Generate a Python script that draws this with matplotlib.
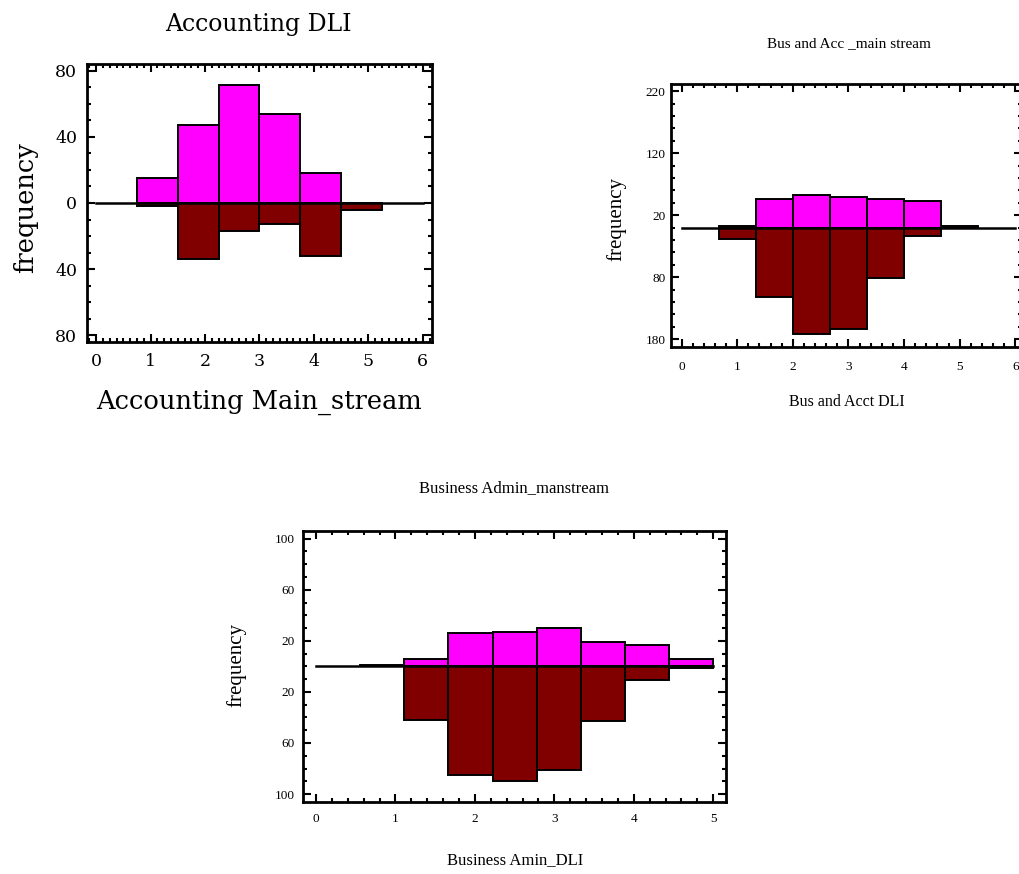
import numpy as np
import matplotlib
matplotlib.use("Agg")
import matplotlib.pyplot as plt
from matplotlib.ticker import MultipleLocator, FixedLocator, FuncFormatter

# ---------------- data ----------------
# Chart 1: Accounting (8 bins of width 0.75 from 0 to 6)
acc_edges = [0, 0.75, 1.5, 2.25, 3.0, 3.75, 4.5, 5.25, 6.0]
acc_dli = [0, 15, 47, 71, 54, 18, 0, 0]          # upper (magenta)
acc_main = [0, 2, 34, 17, 13, 32, 4, 0]          # lower (dark red)
acc_yticks = [80, 40, 0, -40, -80]
acc_xticks = [0, 1, 2, 3, 4, 5, 6]

# Chart 2: Bus and Acc (9 bins of width 2/3 from 0 to 6)
bus_edges = [0, 2/3, 4/3, 2.0, 8/3, 10/3, 4.0, 14/3, 16/3, 6.0]
bus_main = [0, 2, 46, 52, 49, 46, 43, 3, 0]      # upper (magenta)
bus_dli = [0, 19, 112, 171, 163, 81, 13, 0, 0]   # lower (dark red)
bus_yticks = [220, 120, 20, -80, -180]
bus_xticks = [0, 1, 2, 3, 4, 5, 6]

# Chart 3: Business Admin (9 bins of width 5/9 from 0 to 5)
ba_edges = [0, 5/9, 10/9, 15/9, 20/9, 25/9, 30/9, 35/9, 40/9, 5.0]
ba_main = [0, 1, 6, 26, 27, 30, 19, 17, 6]       # upper (magenta)
ba_dli = [0, 0, 42, 85, 90, 81, 43, 11, 1]       # lower (dark red)
ba_yticks = [100, 60, 20, -20, -60, -100]
ba_xticks = [0, 1, 2, 3, 4, 5]

MAGENTA = "#FF00FF"
DARKRED = "#800000"

fig = plt.figure(figsize=(10.19, 8.74), dpi=100)
fig.patch.set_facecolor("white")

absfmt = FuncFormatter(lambda v, p: f"{abs(v):g}")


def draw(ax, edges, up, down, xlim, ylim, yticks, xticks, xminor, yminor,
         tickfont, tsize, ypad, xpad):
    edges = np.asarray(edges, dtype=float)
    lefts = edges[:-1]
    widths = np.diff(edges)
    for l, w, h in zip(lefts, widths, up):
        if h > 0:
            ax.bar(l, h, width=w, align="edge", color=MAGENTA,
                   edgecolor="black", linewidth=1.4, zorder=2)
    for l, w, h in zip(lefts, widths, down):
        if h > 0:
            ax.bar(l, -h, width=w, align="edge", color=DARKRED,
                   edgecolor="black", linewidth=1.4, zorder=2)
    ax.plot([edges[0], edges[-1]], [0, 0], color="black", lw=1.8, zorder=3)
    ax.set_xlim(*xlim)
    ax.set_ylim(*ylim)
    ax.yaxis.set_major_locator(FixedLocator(yticks))
    ax.yaxis.set_major_formatter(absfmt)
    ax.yaxis.set_minor_locator(MultipleLocator(yminor))
    ax.xaxis.set_major_locator(FixedLocator(xticks))
    ax.xaxis.set_minor_locator(MultipleLocator(xminor))
    ax.tick_params(which="both", direction="in", top=True, right=True,
                   width=1.5, colors="black")
    ax.tick_params(which="major", length=6)
    ax.tick_params(which="minor", length=3)
    ax.tick_params(axis="y", pad=ypad)
    ax.tick_params(axis="x", pad=xpad)
    for lab in ax.get_xticklabels() + ax.get_yticklabels():
        lab.set_fontfamily(tickfont)
        lab.set_fontsize(tsize)
    for s in ax.spines.values():
        s.set_linewidth(2)
        s.set_color("black")


# Chart 1
ax1 = fig.add_axes([0.0854, 0.6087, 0.3385, 0.3181])
draw(ax1, acc_edges, acc_dli, acc_main, (-0.17, 6.17), (-84, 84),
     acc_yticks, acc_xticks, 0.125, 10, "DejaVu Serif", 12.5, 7, 8)
fig.text(0.254, 0.9725, "Accounting DLI", ha="center", va="center",
         fontfamily="DejaVu Serif", fontsize=17)
fig.text(0.254, 0.540, "Accounting Main_stream", ha="center", va="center",
         fontfamily="DejaVu Serif", fontsize=18.5)
fig.text(0.0255, 0.763, "frequency", ha="center", va="center", rotation=90,
         fontfamily="DejaVu Serif", fontsize=18.5)

# Chart 2
ax2 = fig.add_axes([0.6585, 0.6033, 0.3445, 0.3002])
draw(ax2, bus_edges, bus_main, bus_dli, (-0.19, 6.12), (-192, 231),
     bus_yticks, bus_xticks, 0.2, 20, "Liberation Serif", 9.5, 4, 10)
fig.text(0.833, 0.9497, "Bus and Acc _main stream", ha="center", va="center",
         fontfamily="Liberation Serif", fontsize=11)
fig.text(0.831, 0.5405, "Bus and Acct DLI", ha="center", va="center",
         fontfamily="Liberation Serif", fontsize=11.5)
fig.text(0.6045, 0.749, "frequency", ha="center", va="center", rotation=90,
         fontfamily="Liberation Serif", fontsize=15)

# Chart 3
ax3 = fig.add_axes([0.2976, 0.0827, 0.4148, 0.3097])
draw(ax3, ba_edges, ba_main, ba_dli, (-0.16, 5.16), (-106, 106),
     ba_yticks, ba_xticks, 0.2, 10, "Liberation Serif", 9.5, 6, 8)
fig.text(0.5045, 0.4416, "Business Admin_manstream", ha="center", va="center",
         fontfamily="Liberation Serif", fontsize=12)
fig.text(0.5055, 0.016, "Business Amin_DLI", ha="center", va="center",
         fontfamily="Liberation Serif", fontsize=12)
fig.text(0.2325, 0.239, "frequency", ha="center", va="center", rotation=90,
         fontfamily="Liberation Serif", fontsize=15)

fig.savefig("out.png", dpi=100, facecolor="white")
